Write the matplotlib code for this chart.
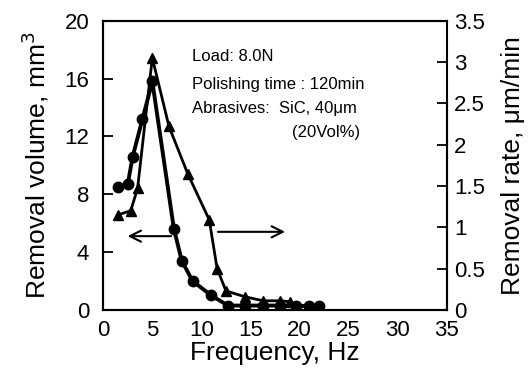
import numpy as np
import matplotlib.pyplot as plt

plt.rcParams['font.family'] = ['Liberation Sans', 'DejaVu Sans']

# Removal volume (left axis, circles)
freq_vol = [1.5, 2.5, 3.0, 4.0, 5.0, 7.2, 8.0, 9.1, 11.0, 12.7, 14.4, 16.3, 18.0, 19.6, 21.0, 22.0]
volume = [8.5, 8.7, 10.6, 13.2, 15.8, 5.6, 3.4, 2.0, 1.0, 0.3, 0.3, 0.3, 0.3, 0.3, 0.25, 0.25]

# Removal rate (right axis, triangles)
freq_rate = [1.5, 2.8, 3.5, 5.0, 6.7, 8.6, 10.8, 11.6, 12.5, 14.4, 16.3, 18.0, 19.0]
rate = [1.15, 1.2, 1.47, 3.05, 2.22, 1.65, 1.09, 0.5, 0.23, 0.16, 0.11, 0.11, 0.1]

x_ticks = [0, 5, 10, 15, 20, 25, 30, 35]
vol_ticks = [0, 4, 8, 12, 16, 20]
rate_ticks = [0, 0.5, 1, 1.5, 2, 2.5, 3, 3.5]
rate_labels = ['0', '0.5', '1', '1.5', '2', '2.5', '3', '3.5']

fig = plt.figure(figsize=(5.32, 3.77), dpi=100)
ax = fig.add_axes([0.194, 0.178, 0.646, 0.767])
ax2 = ax.twinx()

ax.plot(freq_vol, volume, color='black', lw=2.8, marker='o', ms=7.5, zorder=3)
ax2.plot(freq_rate, rate, color='black', lw=2.0, marker='^', ms=6.5, zorder=3)

ax.set_xlim(0, 35)
ax.set_ylim(0, 20)
ax2.set_ylim(0, 3.5)

ax.set_xticks(x_ticks)
ax.set_yticks(vol_ticks)
ax2.set_yticks(rate_ticks)
ax2.set_yticklabels(rate_labels)

ax.tick_params(axis='x', length=0, pad=7, labelsize=16)
ax.tick_params(axis='y', direction='in', length=7, width=1.3, pad=10, labelsize=16)
ax2.tick_params(axis='y', direction='in', length=7, width=1.3, pad=5, labelsize=16)

for a in (ax, ax2):
    for s in a.spines.values():
        s.set_linewidth(1.5)
ax2.spines['right'].set_bounds(0, 2.5)

ax.set_xlabel('Frequency, Hz', fontsize=19, labelpad=0)
ax.set_ylabel('Removal volume, mm$^3$', fontsize=19, labelpad=10)
ax2.set_ylabel('Removal rate, \u03bcm/min', fontsize=19, labelpad=12)

# arrows pointing to each axis
ax.annotate('', xy=(2.2, 5.1), xytext=(7.2, 5.1),
            arrowprops=dict(arrowstyle='->', lw=1.5, color='black', mutation_scale=20))
ax.annotate('', xy=(18.8, 5.4), xytext=(11.4, 5.4),
            arrowprops=dict(arrowstyle='->', lw=1.5, color='black', mutation_scale=20))

ax.text(9.0, 17.5, 'Load: 8.0N', fontsize=12, va='center')
ax.text(9.0, 15.6, 'Polishing time : 120min', fontsize=12, va='center')
ax.text(9.0, 13.9, 'Abrasives:  SiC, 40\u03bcm', fontsize=12, va='center')
ax.text(19.2, 12.3, '(20Vol%)', fontsize=12, va='center')

fig.savefig('out.png', dpi=100)
